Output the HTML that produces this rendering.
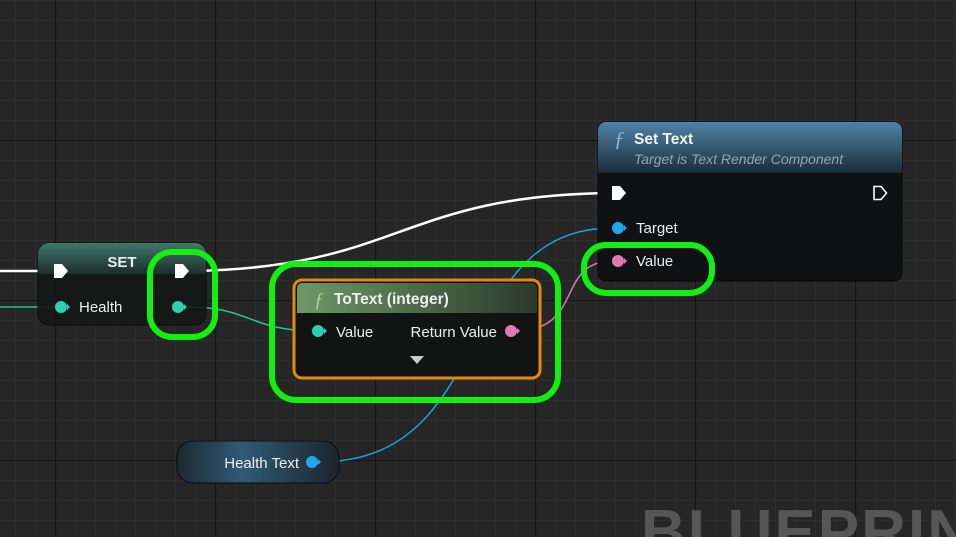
<!DOCTYPE html>
<html><head><meta charset="utf-8"><style>
html,body{margin:0;padding:0;background:#262626;overflow:hidden}
body{width:956px;height:537px;position:relative;font-family:"Liberation Sans",sans-serif}
</style></head><body>
<svg width="956" height="537" viewBox="0 0 956 537" xmlns="http://www.w3.org/2000/svg" style="position:absolute;left:0;top:0">
<defs>
<pattern id="minor" x="15" y="0" width="20" height="20" patternUnits="userSpaceOnUse">
<path d="M0 0V20M0 0H20" stroke="#363636" stroke-width="1" fill="none"/>
</pattern>
<pattern id="major" x="55" y="140" width="160" height="160" patternUnits="userSpaceOnUse">
<path d="M0.5 0V160M0 0.5H160" stroke="#151515" stroke-width="1.2" fill="none"/>
</pattern>
<linearGradient id="setH" x1="0" y1="0" x2="0" y2="1"><stop offset="0" stop-color="#4f9888"/><stop offset="1" stop-color="#1d3531"/></linearGradient>
<linearGradient id="stH" x1="0" y1="0" x2="0" y2="1"><stop offset="0" stop-color="#5083a6"/><stop offset="1" stop-color="#1a2c39"/></linearGradient>
<linearGradient id="ttH" x1="0" y1="0" x2="1" y2="0"><stop offset="0" stop-color="#6f9867"/><stop offset="1" stop-color="#2a3a2a"/></linearGradient>
<linearGradient id="htH" x1="0" y1="0" x2="1" y2="0"><stop offset="0" stop-color="#1c2a33"/><stop offset="0.4" stop-color="#2f5a76"/><stop offset="1" stop-color="#1c252b"/></linearGradient>
</defs>
<rect width="956" height="537" fill="#262626"/>
<rect width="956" height="537" fill="url(#minor)"/>
<rect width="956" height="537" fill="url(#major)"/>
<text x="641" y="553" font-size="62" font-weight="bold" fill="#565656" letter-spacing="2">BLUEPRINT</text>

<!-- wires -->
<path d="M0 271H52" stroke="#fff" stroke-width="2.5" fill="none"/>
<path d="M190 271C400 268 400 195 612 193" stroke="#fff" stroke-width="2.5" fill="none"/>
<path d="M0 307H60" stroke="#2bbfa0" stroke-width="1.5" fill="none"/>
<path d="M188 307C250 307 250 331 316 331" stroke="#2bbfa0" stroke-width="1.5" fill="none"/>
<path d="M318 462C500 462 450 228 613 228" stroke="#1fa0dc" stroke-width="1.5" fill="none"/>
<path d="M515 331C585 331 555 261 613 261" stroke="#d77aa8" stroke-width="1.5" fill="none"/>

<!-- SET node -->
<rect x="38" y="243" width="168" height="82" rx="11" fill="#151717" fill-opacity="0.92" stroke="#0c0c0c"/>
<path d="M49 243H195A11 11 0 0 1 206 254V274H38V254A11 11 0 0 1 49 243Z" fill="url(#setH)" opacity="0.75"/>
<text x="122" y="267" font-size="15" font-weight="bold" fill="#eee" text-anchor="middle">SET</text>
<path d="M54 264h8l6 7-6 7h-8z" fill="#fff"/>
<path d="M175 264h8l6 7-6 7h-8z" fill="#fff"/>
<circle cx="61" cy="307" r="6" fill="#2bd0ac"/><path d="M67 304l3 3-3 3z" fill="#2bd0ac"/>
<text x="79" y="312" font-size="15" fill="#eee">Health</text>
<circle cx="178" cy="307" r="6" fill="#2bd0ac"/><path d="M184 304l3 3-3 3z" fill="#2bd0ac"/>

<!-- ToText node -->
<rect x="294" y="280" width="246" height="98" rx="8" fill="#121413" stroke="#e08a14" stroke-width="3"/>
<path d="M302 283H532A5 5 0 0 1 537 288V313H297V288A5 5 0 0 1 302 283Z" fill="url(#ttH)"/>
<text x="314" y="306" font-size="20" font-style="italic" font-family="Liberation Serif,serif" fill="#a8d890">ƒ</text>
<text x="334" y="304" font-size="15.5" font-weight="bold" fill="#f0f0f0">ToText (integer)</text>
<circle cx="318" cy="331" r="6" fill="#2bd0ac"/><path d="M324 328l3 3-3 3z" fill="#2bd0ac"/>
<text x="336" y="337" font-size="15" fill="#eee">Value</text>
<text x="497" y="337" font-size="15" fill="#eee" text-anchor="end">Return Value</text>
<circle cx="511" cy="331" r="6" fill="#e07bb0"/><path d="M517 328l3 3-3 3z" fill="#e07bb0"/>
<path d="M410 356h14l-7 8z" fill="#ccc"/>

<!-- Set Text node -->
<rect x="598" y="122" width="304" height="159" rx="8" fill="#0f1112" stroke="#080808"/>
<path d="M606 122H894A8 8 0 0 1 902 130V173H598V130A8 8 0 0 1 606 122Z" fill="url(#stH)"/>
<text x="614" y="146" font-size="21" font-style="italic" font-family="Liberation Serif,serif" fill="#7fc0ef">ƒ</text>
<text x="634" y="144" font-size="15.5" font-weight="bold" fill="#f4f4f4">Set Text</text>
<text x="634" y="164" font-size="14" font-style="italic" fill="#93a6ae">Target is Text Render Component</text>
<path d="M612 186h8l6 7-6 7h-8z" fill="#fff"/>
<path d="M874 186.5h7l5.5 6.5-5.5 6.5h-7z" fill="none" stroke="#fff" stroke-width="1.6"/>
<circle cx="618" cy="228" r="6" fill="#1fa8f0"/><path d="M624 225l3 3-3 3z" fill="#1fa8f0"/>
<text x="636" y="233" font-size="15" fill="#eee">Target</text>
<circle cx="618" cy="261" r="6" fill="#e07bb0"/><path d="M624 258l3 3-3 3z" fill="#e07bb0"/>
<text x="636" y="266" font-size="15" fill="#eee">Value</text>

<!-- Health Text -->
<rect x="177" y="441" width="162" height="42" rx="16" fill="url(#htH)" stroke="#0a0a0a"/>
<text x="299" y="468" font-size="15" fill="#eee" text-anchor="end">Health Text</text>
<circle cx="312" cy="462" r="6" fill="#1fa8f0"/><path d="M318 459l3 3-3 3z" fill="#1fa8f0"/>

<!-- highlights -->
<rect x="150" y="252" width="65" height="85" rx="22" fill="none" stroke="#11f011" stroke-width="6"/>
<rect x="272" y="264" width="286" height="136" rx="24" fill="none" stroke="#11f011" stroke-width="6"/>
<rect x="584" y="245" width="128" height="48" rx="22" fill="none" stroke="#11f011" stroke-width="6"/>
</svg>
</body></html>
